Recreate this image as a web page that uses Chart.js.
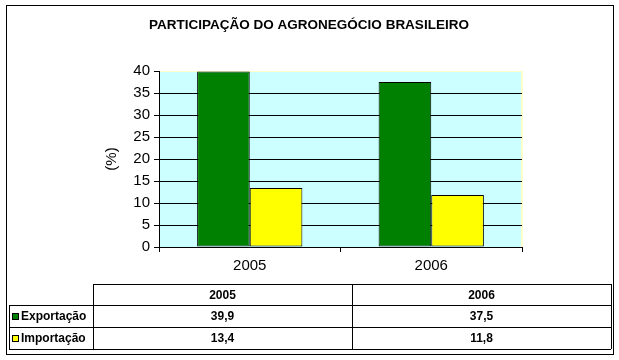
<!DOCTYPE html>
<html>
<head>
<meta charset="utf-8">
<script src="https://cdn.jsdelivr.net/npm/chart.js@4.4.1/dist/chart.umd.min.js"></script>
<style>
  html, body { margin: 0; padding: 0; background: #fff; }
  #wrap { width: 619px; height: 360px; }
</style>
</head>
<body>
<div id="wrap"><canvas id="chart" width="619" height="360"></canvas></div>
<script>
// chart data
const chartTitle = 'PARTICIPAÇÃO DO AGRONEGÓCIO BRASILEIRO';
const years = ['2005', '2006'];
const seriesNames = ['Exportação', 'Importação'];
const exportacao = [39.9, 37.5];
const importacao = [13.4, 11.8];
const yMin = 0, yMax = 40, yStep = 5;

const FONT = '"Liberation Sans", Arial, Helvetica, sans-serif';

function fmt(v) {
    return v.toFixed(1).replace('.', ',');
}

// frame, title and plot background
const framePlugin = {
    id: 'frame',
    beforeDraw(chart) {
        const ctx = chart.ctx;
        const a = chart.chartArea;
        ctx.save();
        ctx.fillStyle = '#fff';
        ctx.fillRect(0, 0, chart.width, chart.height);
        ctx.strokeStyle = '#000';
        ctx.lineWidth = 1;
        ctx.strokeRect(6.5, 5.5, 607, 349);

        ctx.fillStyle = '#ccffff';
        ctx.fillRect(a.left, a.top, a.right - a.left, a.bottom - a.top);
        ctx.strokeStyle = '#ffffcc';
        ctx.lineWidth = 2;
        ctx.beginPath();
        ctx.moveTo(a.right, a.top);
        ctx.lineTo(a.right, a.bottom);
        ctx.stroke();

        ctx.fillStyle = '#000';
        ctx.font = 'bold 13.5px ' + FONT;
        ctx.textAlign = 'center';
        ctx.textBaseline = 'middle';
        ctx.fillText(chartTitle, 309, 25);
        ctx.restore();
    }
};

// data table under the chart, built from the chart data
const tablePlugin = {
    id: 'dataTable',
    afterDraw(chart) {
        const ctx = chart.ctx;
        const left = 9, labelRight = 93, right = 611;
        const top = 284, rows = [305, 327, 349];
        const colW = (right - labelRight) / chart.data.labels.length;

        ctx.save();
        ctx.strokeStyle = '#000';
        ctx.lineWidth = 1;
        ctx.beginPath();
        ctx.moveTo(labelRight, top + 0.5); ctx.lineTo(right, top + 0.5);
        rows.forEach(y => { ctx.moveTo(left, y + 0.5); ctx.lineTo(right, y + 0.5); });
        ctx.moveTo(left + 0.5, rows[0]); ctx.lineTo(left + 0.5, rows[2]);
        for (let i = 0; i <= chart.data.labels.length; i++) {
            const x = Math.round(labelRight + i * colW) + 0.5;
            ctx.moveTo(x, top); ctx.lineTo(x, rows[2]);
        }
        ctx.stroke();

        ctx.fillStyle = '#000';
        ctx.font = 'bold 12px ' + FONT;
        ctx.textBaseline = 'middle';
        ctx.textAlign = 'center';
        chart.data.labels.forEach((lab, i) => {
            ctx.fillText(lab, labelRight + (i + 0.5) * colW, (top + rows[0]) / 2 + 1);
        });

        chart.data.datasets.forEach((ds, d) => {
            const cy = (rows[d] + rows[d + 1]) / 2 + 1;
            ds.data.forEach((v, i) => {
                ctx.textAlign = 'center';
                ctx.fillText(fmt(v), labelRight + (i + 0.5) * colW, cy);
            });
            // legend key
            ctx.fillStyle = ds.backgroundColor;
            ctx.fillRect(12, Math.round(cy) - 4, 7, 7);
            ctx.strokeStyle = '#000';
            ctx.strokeRect(12.5, Math.round(cy) - 3.5, 6, 6);
            ctx.fillStyle = '#000';
            ctx.textAlign = 'left';
            ctx.fillText(ds.label, 21, cy);
        });
        ctx.restore();
    }
};

const ctx = document.getElementById('chart').getContext('2d');
new Chart(ctx, {
    type: 'bar',
    data: {
        labels: years,
        datasets: [
            { label: seriesNames[0], data: exportacao, backgroundColor: '#008000' },
            { label: seriesNames[1], data: importacao, backgroundColor: '#ffff00' }
        ]
    },
    options: {
        responsive: false,
        animation: false,
        events: [],
        layout: { padding: { left: 103, right: 97, top: 71, bottom: 83 } },
        datasets: {
            bar: {
                categoryPercentage: 0.58,
                barPercentage: 1,
                borderColor: '#000',
                borderWidth: 1,
                borderSkipped: false
            }
        },
        plugins: {
            legend: { display: false },
            title: { display: false },
            tooltip: { enabled: false }
        },
        scales: {
            x: {
                offset: true,
                grid: {
                    offset: true,
                    drawOnChartArea: false,
                    drawTicks: true,
                    tickLength: 5,
                    color: '#000'
                },
                border: { color: '#000', width: 1 },
                ticks: {
                    color: '#000',
                    padding: 5,
                    font: { family: FONT, size: 15 }
                },
                afterFit(scale) { scale.height = 30; }
            },
            y: {
                min: yMin,
                max: yMax,
                grid: {
                    color: c => (c.tick && c.tick.value === yMax) ? '#ffffcc' : '#000',
                    tickColor: '#000',
                    tickLength: 5,
                    lineWidth: 1
                },
                border: { color: '#000', width: 1 },
                ticks: {
                    stepSize: yStep,
                    color: '#000',
                    padding: 4,
                    font: { family: FONT, size: 15 }
                },
                title: {
                    display: true,
                    text: '(%)',
                    color: '#000',
                    padding: 0,
                    font: { family: FONT, size: 15 }
                },
                afterFit(scale) {
                    scale.width = 56;
                    scale.paddingTop = 0;
                    scale.paddingBottom = 0;
                }
            }
        }
    },
    plugins: [framePlugin, tablePlugin]
});
</script>
</body>
</html>
